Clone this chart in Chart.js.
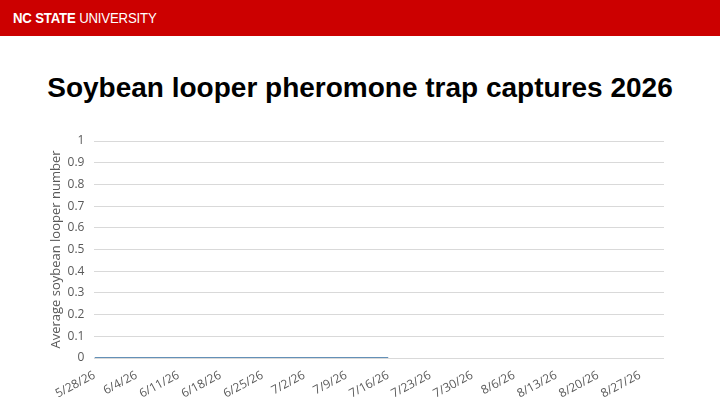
<!DOCTYPE html>
<html>
<head>
<meta charset="utf-8">
<script src="https://cdn.jsdelivr.net/npm/chart.js@4.4.1/dist/chart.umd.min.js"></script>
<style>
  html, body { margin: 0; padding: 0; background: #fff; }
  body { width: 720px; height: 405px; overflow: hidden; position: relative; }
  #bar { height: 36px; background: #cc0000; color: #fff; font-family: "Liberation Sans", Arial, sans-serif; font-size: 15px; line-height: 36px; padding-left: 13px; }
  #bar span { display: inline-block; transform: scaleX(0.88); transform-origin: left center; letter-spacing: -0.2px; }
  #bar b { font-weight: bold; }
  #titulo { position: absolute; left: 0; top: 71px; width: 720px; text-align: center; font-family: "Liberation Sans", Arial, sans-serif; font-weight: bold; font-size: 28px; line-height: 34px; color: #000; margin: 0; }
  #wrap { position: absolute; left: 0; top: 105px; width: 720px; height: 300px; }
</style>
</head>
<body>
<div id="bar"><span><b>NC STATE</b> UNIVERSITY</span></div>
<h1 id="titulo"></h1>
<div id="wrap"><canvas id="myChart"></canvas></div>
<script>
const titulo = 'Soybean looper pheromone trap captures 2026'
const ejeY = 'Average soybean looper number'
const fechas = ['5/28/26','6/4/26','6/11/26','6/18/26','6/25/26','7/2/26','7/9/26','7/16/26',
  '7/23/26','7/30/26','8/6/26','8/13/26','8/20/26','8/27/26']
const capturas = [0,0,0,0,0,0,0,0,null,null,null,null,null,null]
const finEje = '8/31/26'
const yMin = 0, yMax = 1, yPaso = 0.1

document.getElementById('titulo').textContent = titulo

// dias desde la primera fecha
const dia = (f) => {
  const [m, d, a] = f.split('/').map(Number)
  const t = Date.UTC(2000 + a, m - 1, d)
  const [m0, d0, a0] = fechas[0].split('/').map(Number)
  return Math.round((t - Date.UTC(2000 + a0, m0 - 1, d0)) / 86400000)
}

const puntos = fechas.map((f, i) => ({ x: dia(f), y: capturas[i] }))
const gris = '#595959'
const fuente = "'Open Sans', 'Liberation Sans', sans-serif"

const $ctx = document.getElementById('myChart').getContext('2d')
new Chart($ctx, {
  type: 'line',
  data: {
    datasets: [{
      label: 'Captures',
      data: puntos,
      borderColor: '#2f6b9f',
      borderWidth: 1.6,
      pointRadius: 0,
      spanGaps: false
    }]
  },
  options: {
    responsive: true,
    maintainAspectRatio: false,
    animation: false,
    layout: { padding: { left: 48, right: 56, top: 36, bottom: 2 } },
    plugins: {
      legend: { display: false },
      tooltip: { enabled: false },
      title: { display: false }
    },
    scales: {
      x: {
        type: 'linear',
        min: 0,
        max: dia(finEje),
        afterBuildTicks: (s) => { s.ticks = fechas.map(f => ({ value: dia(f) })) },
        grid: { display: false },
        border: { display: false },
        ticks: {
          autoSkip: false,
          minRotation: 28,
          maxRotation: 28,
          color: gris,
          font: { family: fuente, size: 12 },
          padding: 2,
          callback: (v, i) => fechas[i]
        }
      },
      y: {
        min: yMin,
        max: yMax,
        ticks: {
          stepSize: yPaso,
          color: gris,
          font: { family: fuente, size: 12 },
          padding: 10,
          callback: (v) => String(Math.round(v * 10) / 10)
        },
        grid: { color: '#d9d9d9', drawTicks: false },
        border: { display: false },
        title: {
          display: true,
          text: ejeY,
          color: gris,
          font: { family: fuente, size: 13 },
          padding: { top: 0, bottom: -6 }
        }
      }
    }
  }
})
</script>
</body>
</html>
